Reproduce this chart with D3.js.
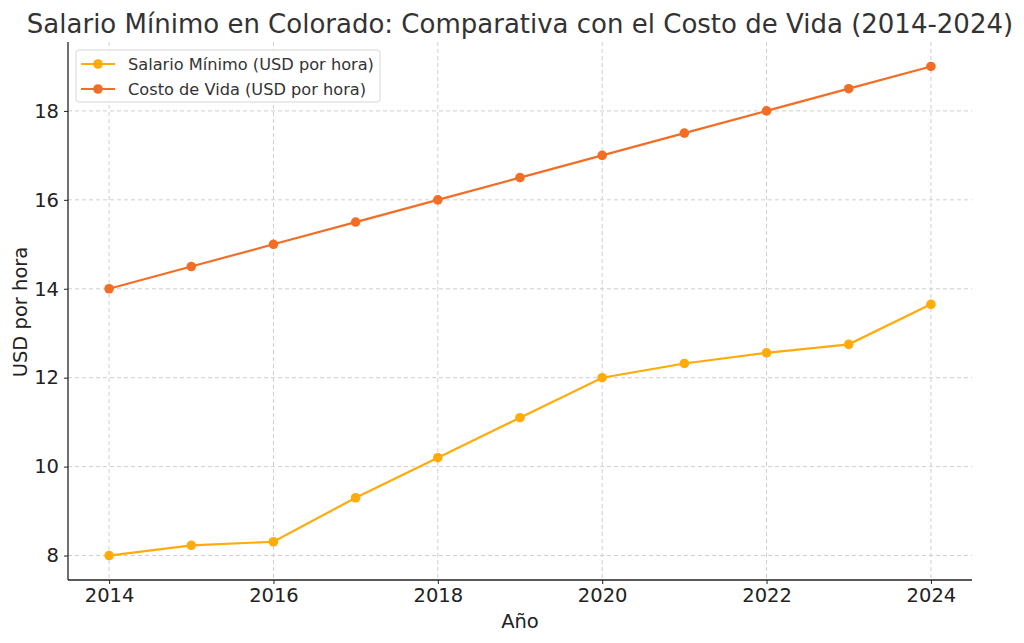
<!DOCTYPE html>
<html><head><meta charset="utf-8">
<script src="https://cdn.jsdelivr.net/npm/d3@7"></script>
<style>body{margin:0;background:#fff;} svg{display:block;} text{font-family:'DejaVu Sans';}</style>
</head><body>
<svg id="c" width="1024" height="643"></svg>
<script>
const years = [2014,2015,2016,2017,2018,2019,2020,2021,2022,2023,2024];
const salarioMinimo = [8.00,8.23,8.31,9.30,10.20,11.10,12.00,12.32,12.56,12.75,13.65];
const costoVida = [14.0,14.5,15.0,15.5,16.0,16.5,17.0,17.5,18.0,18.5,19.0];
const xTicks = [2014,2016,2018,2020,2022,2024];
const yTicks = [8,10,12,14,16,18];
const seriesNames = ["Salario Mínimo (USD por hora)","Costo de Vida (USD por hora)"];
const seriesColors = ["#ffab0a","#f46d25"];

const svg = d3.select("#c");
const m = {l:68, r:972, t:42, b:580};
const font = "'DejaVu Sans'";
const x = d3.scaleLinear().domain([2013.5,2024.5]).range([m.l,m.r]);
const y = d3.scaleLinear().domain([7.45,19.55]).range([m.b,m.t]);

// grid
const g = svg.append("g");
g.selectAll(".gx").data(xTicks).join("line")
  .attr("x1",d=>x(d)).attr("x2",d=>x(d)).attr("y1",m.t).attr("y2",m.b)
  .attr("stroke","#cfcfcf").attr("stroke-width",1).attr("stroke-dasharray","4,3");
g.selectAll(".gy").data(yTicks).join("line")
  .attr("x1",m.l).attr("x2",m.r).attr("y1",d=>y(d)).attr("y2",d=>y(d))
  .attr("stroke","#cfcfcf").attr("stroke-width",1).attr("stroke-dasharray","4,3");

// axes
const xa = svg.append("g").attr("transform",`translate(0,${m.b})`)
  .call(d3.axisBottom(x).tickValues(xTicks).tickFormat(d3.format("d")).tickSize(4).tickPadding(4));
const ya = svg.append("g").attr("transform",`translate(${m.l},0)`)
  .call(d3.axisLeft(y).tickValues(yTicks).tickFormat(d3.format("d")).tickSize(4).tickPadding(5));
[xa,ya].forEach(a=>{
  a.attr("font-family",null).attr("font-size",null);
  a.select(".domain").attr("stroke","#222").attr("stroke-width",1.3);
  a.selectAll(".tick line").attr("stroke","#222");
  a.selectAll(".tick text").attr("fill","#222").style("font-family",font).style("font-size","19.5px");
});
xa.select(".domain").attr("d",`M${m.l},0H${m.r}`);
ya.select(".domain").attr("d",`M0,${m.t}V${m.b}`);

// lines
const data = [salarioMinimo, costoVida];
const line = d3.line().x((d,i)=>x(years[i])).y(d=>y(d));
data.forEach((s,k)=>{
  svg.append("path").datum(s).attr("d",line).attr("fill","none")
    .attr("stroke",seriesColors[k]).attr("stroke-width",2.2);
  svg.append("g").selectAll("circle").data(s).join("circle")
    .attr("cx",(d,i)=>x(years[i])).attr("cy",d=>y(d)).attr("r",4.8).attr("fill",seriesColors[k]);
});

// title & labels
svg.append("text").attr("x",520).attr("y",33).attr("text-anchor","middle")
  .style("font-family",font).style("font-size","26px").attr("fill","#333")
  .text("Salario Mínimo en Colorado: Comparativa con el Costo de Vida (2014-2024)");
svg.append("text").attr("x",520).attr("y",628).attr("text-anchor","middle")
  .style("font-family",font).style("font-size","19.5px").attr("fill","#222").text("Año");
svg.append("text").attr("transform","translate(27,312) rotate(-90)").attr("text-anchor","middle")
  .style("font-family",font).style("font-size","19.5px").attr("fill","#222").text("USD por hora");

// legend
const lg = svg.append("g");
lg.append("rect").attr("x",76).attr("y",50).attr("width",304).attr("height",52).attr("rx",3)
  .attr("fill","#fff").attr("fill-opacity",0.8).attr("stroke","#d6d6d6");
seriesNames.forEach((n,k)=>{
  const yy = 64 + k*25;
  lg.append("line").attr("x1",81).attr("x2",115).attr("y1",yy).attr("y2",yy)
    .attr("stroke",seriesColors[k]).attr("stroke-width",2.2);
  lg.append("circle").attr("cx",98).attr("cy",yy).attr("r",4.8).attr("fill",seriesColors[k]);
  lg.append("text").attr("x",128).attr("y",yy).attr("dy","0.35em")
    .style("font-family",font).style("font-size","16.2px").attr("fill","#333").text(n);
});
</script>
</body></html>
